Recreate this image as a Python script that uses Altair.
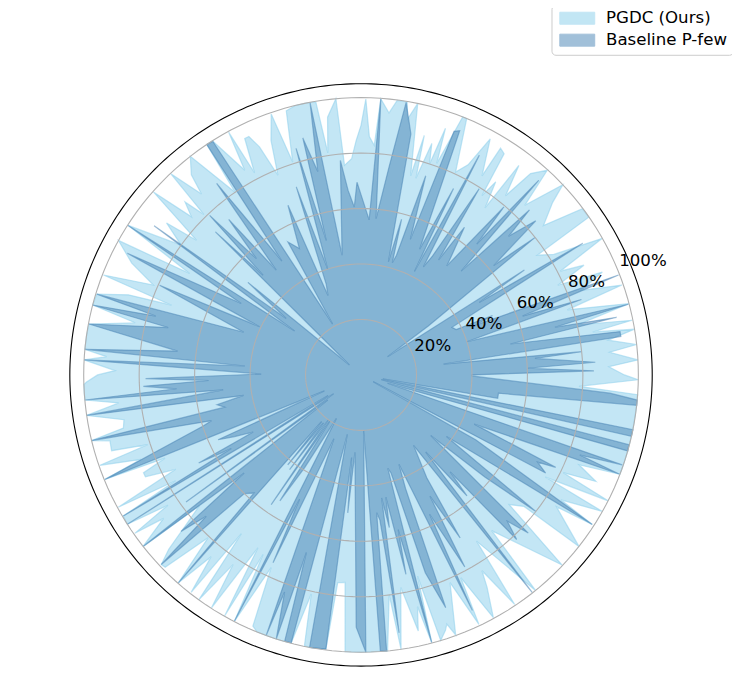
import altair as alt
import pandas as pd

base_angle = [0,1,2.3,3.1,5.4,6,7.5,8.4,9.5,11.7,12.7,13.8,14.8,17.4,18.9,20,21.2,23.5,24.3,25.5,27.6,30.7,31.5,32.7,34.5,36,38.3,39.5,41.4,43.2,44.4,46,47.6,48.5,49.6,51.8,53,55,56,57.6,59,60,61.7,62.7,63.6,65,68,69.1,70,72,73.5,74.4,75.4,76.4,78.3,80.6,82.3,84.5,85.9,87,90,
91.2,92.3,94,95.5,99,100.6,102,103.8,104.5,106,107.5,109,111,112.6,113.3,116,118.8,119.2,122.4,123.8,124.8,127,129,130.4,132,133.5,134.5,135.5,139.4,140.7,143,144.2,146.6,147.3,149.2,152.5,154.6,156,160,163,164,165.4,166.2,169.4,172.6,174.7,175.6,176.9,179.5,
181,182.1,183,184.3,185.2,186.2,188.4,189.9,191.7,193.3,193.7,197,198,202.2,203.6,204.4,206,207.9,208.5,209.6,210.7,212,212.6,214.5,216,217,218.2,220,221,222.4,223.5,225.5,227.8,228.7,229.8,230.8,232,233,234,235.3,236,237.2,238.7,240.5,242.8,243.7,244.9,247,250,250.6,252.2,252.9,254,255.4,257,259.3,262.7,263.5,264.5,265.5,268.9,
271,272.7,274,275.3,276.5,277.4,278.4,279.5,280.5,281.5,282.7,283.5,284.8,286,287,288,290,291.4,293,295.3,296.2,298.4,299.6,301.3,302.6,306.7,308.2,310,311.2,312.6,313.4,315,316.6,319,320.5,322,324.2,326.3,327.1,330.5,331,332,333.7,334.6,336.5,339,339.9,341,342.5,344.1,345.4,347,347.2,348.6,349.5,350.3,352.4,353.7,354.8,355.8,359.5]
base_value = [40,84,60,84.6,63,80,30,94.7,94.7,55,94.5,72,99.7,40,84,62,99.6,45,52,38,37,93,50,70,11.6,30,80,62,84,73,85,52,95,63,79.5,50,55,65,50,79.5,50,45,90,42,75,50,95,94,52,75.5,45,42,58,42,88.7,99.6,76,56.6,99.8,56,65,
69.5,60.6,66.7,77.7,43.7,100,75,88,50,85,40,71.7,35,31,66.6,50.7,54.7,21,99.7,100,50,86.5,48.6,73.6,56.4,79.3,50.4,73.6,5.5,52.7,33.8,92,28.7,99.8,50.3,95,40.5,79.5,45,99.6,77,100,71.6,99.8,66.7,100,42,100,36,
77.7,55,78.6,66.7,99.9,50,100,43,53,50.5,100,56.4,60,99.8,14.4,56.6,50.7,44,66.6,53.8,99.7,14,100,12,78,15,100,55,86,75.6,99.3,60,57.5,99.8,22,41.8,22,42.8,20,56.9,20,54,39,18,99.8,50,74.8,25,100,83,100,67,99.8,99.8,22,100,99.7,30,50,28,91,
100,20,99.8,100,50,52.8,94,45,56,45,73.7,57.4,99.8,35,37,75,89.3,44,35,94,56,78.7,50.3,68.8,44,31.7,99.9,36.3,58,47.5,81.7,74.6,83,33.3,58,80,38,67,99.3,47.5,5,75.4,71,77.7,44.5,99.7,84,99.6,10,100,99.8,7.5,100,100,8,50,50,100,100,90,40]

pgdc_angle = [0,1.9,3.1,5.2,6.3,8,9.5,10.5,11.4,13,14.9,17.5,19,21,23.1,24.5,26.2,27.5,29.5,32,34.2,34.7,36.9,39.3,42,43.3,46,47.7,49.9,51.1,53,53.4,55.1,56,57.1,58.4,58.7,61.3,63,65,67.6,68.5,70.3,71.1,72,73,74.4,75.2,76,78.2,79.7,80.4,82.5,83.9,85.9,86.7,88,89,90,
91.2,92.5,94.5,95.2,97.4,98.5,99.4,101,103.7,105.8,107.8,109,111,112.6,114,115.2,116.2,117.8,118.6,119.6,122.4,123.8,124.6,128,130.3,131.4,133.4,134.4,135.5,137,138.6,140.7,142,144.2,147.3,149.4,151,154,156.6,158.8,159.8,161,163,165.4,167,169.4,171.8,174.7,175.9,176.9,179,
180,181.5,182,183.5,185.2,186.6,188.4,190.7,192.6,193.7,194.7,196.9,198.1,199.1,201,202.2,203,204.2,205.3,207,208.6,209.7,210.7,212.6,214,215,216,218.2,219,222.2,223.5,224.5,226.8,228.7,230.5,232,233,234.2,236,237.3,239.2,240.5,241.4,242.8,245,246.7,248,250,252.2,254,255.4,257.2,258.2,259.3,262.7,263.6,265.6,266.7,270,
275.5,277.3,278.3,280.6,282.6,283.7,284.8,285.7,286.7,288.3,289,290,293.2,295.3,296.2,298.6,300.7,301.7,303.8,304.8,309,310,316.6,318.8,321.1,321.8,326,327.1,328,330.5,331,333,334.2,335.6,337.6,339,341,344,348.6,353.7,355.9,357,359]
pgdc_value = [95,89.4,100,90,100,90,100,85,99.7,80,100,78,99.5,85,94.6,78,89.6,81,100,82,76.8,99.9,99.8,85,93,100,85,99.8,94.9,83,94.6,75,84.9,78,95,96,84,97,85,80.7,100,100,81,94,80,87.3,73.6,89.3,74,100,93.8,99.8,99.8,95,99.8,82.9,86,99.5,90,
84.5,78,75.8,100,93.7,81,99.7,100,100,99,80.6,99.5,90.6,78,90,95,95,82.3,99.7,84.9,100,100,80,100,94.6,87,99.8,81,89,83.6,99.8,76.7,89,80,99.8,71.8,100,92,81.6,99.6,72.8,88.7,99.6,100,83.6,99.8,100,100,92,100,88.7,
95,99,100,100,100,88,100,87,87.8,100,93.6,94,81,99.6,85,99.8,76.8,86,86,75,99.7,77,99.7,100,84,99.6,88,100,75,93.6,99.3,99,80.6,99.8,85,99.5,71.7,100,82.5,99.8,72.6,99.9,73.8,99.8,76.7,98.6,100,100,100,100,99.8,81,99.8,100,99.7,75.4,75,100,100,
100,80,100,78,94.6,86,99.8,75.4,100,97,95,99.8,81.5,99.5,81.5,99.7,89,83,99.6,73,100,73.3,99.8,71,75.5,100,85,99.3,85,100,76,100,81,93,85,100,100,100,100,100,100,78.7,100]

assert len(base_angle) == len(base_value), (len(base_angle), len(base_value))
assert len(pgdc_angle) == len(pgdc_value), (len(pgdc_angle), len(pgdc_value))

series_names = ["PGDC (Ours)", "Baseline P-few"]
series_colors = ["#87CEEB", "#4682B4"]
grid_levels = [20, 40, 60, 80, 100]
tick_labels = ["20%", "40%", "60%", "80%", "100%"]
frame_level = 105
label_angle = 22.5

rows = []
for s, angs, vals in ((series_names[0], pgdc_angle, pgdc_value), (series_names[1], base_angle, base_value)):
    for i in range(len(angs)):
        rows.append({"series": s, "i": i, "a": angs[i], "r": vals[i]})
poly = pd.DataFrame(rows)

circles = pd.DataFrame([{"lvl": l, "i": a, "a": a, "r": l} for l in grid_levels for a in range(0, 360, 2)])
frame = pd.DataFrame([{"i": a, "a": a, "r": frame_level} for a in range(0, 360, 1)])
labels = pd.DataFrame([{"a": label_angle, "r": l, "t": t} for l, t in zip(grid_levels, tick_labels)])

XY = dict(
    x=alt.X("px:Q", scale=alt.Scale(domain=[-frame_level, frame_level], nice=False, zero=False), axis=None),
    y=alt.Y("py:Q", scale=alt.Scale(domain=[-frame_level, frame_level], nice=False, zero=False), axis=None),
)
def polar(c):
    return c.transform_calculate(px="datum.r*cos(datum.a*PI/180)", py="datum.r*sin(datum.a*PI/180)")

color_scale = alt.Scale(domain=series_names, range=series_colors)
areas = polar(alt.Chart(poly).mark_line(interpolate="linear-closed", fillOpacity=0.5, strokeOpacity=0.5, strokeWidth=1.2)).encode(
    **XY,
    order=alt.Order("i:Q"),
    fill=alt.Fill("series:N", scale=color_scale, sort=series_names, legend=alt.Legend(
        title=None, orient="none", legendX=483, legendY=-79, fillColor="white", strokeColor="#cccccc",
        cornerRadius=4, padding=5, labelFontSize=16.67, labelFont="DejaVu Sans", labelColor="black",
        symbolType="M-1,-1.2H6V1.2H-1Z", symbolSize=100, symbolOpacity=0.5, rowPadding=4, labelOffset=33, symbolStrokeWidth=1)),
    stroke=alt.Stroke("series:N", scale=color_scale, sort=series_names),
)
grid = polar(alt.Chart(circles).mark_line(interpolate="linear-closed", stroke="#b0b0b0", strokeWidth=1.1)).encode(
    **XY, order=alt.Order("i:Q"), detail="lvl:N")
outer = polar(alt.Chart(frame).mark_line(interpolate="linear-closed", stroke="black", strokeWidth=1.1)).encode(
    **XY, order=alt.Order("i:Q"))
text = polar(alt.Chart(labels).mark_text(align="left", baseline="bottom", font="DejaVu Sans", fontSize=16.67, color="black", dx=2, dy=1)).encode(
    **XY, text="t:N")

chart = (areas + grid + outer + text).properties(
    width=584, height=584,
    autosize=alt.AutoSizeParams(type="none"),
    padding={"left": 62, "top": 75, "right": 80, "bottom": 10},
).configure_view(stroke=None)

chart.save("out.html", embed_options={"renderer": "svg", "actions": False})
